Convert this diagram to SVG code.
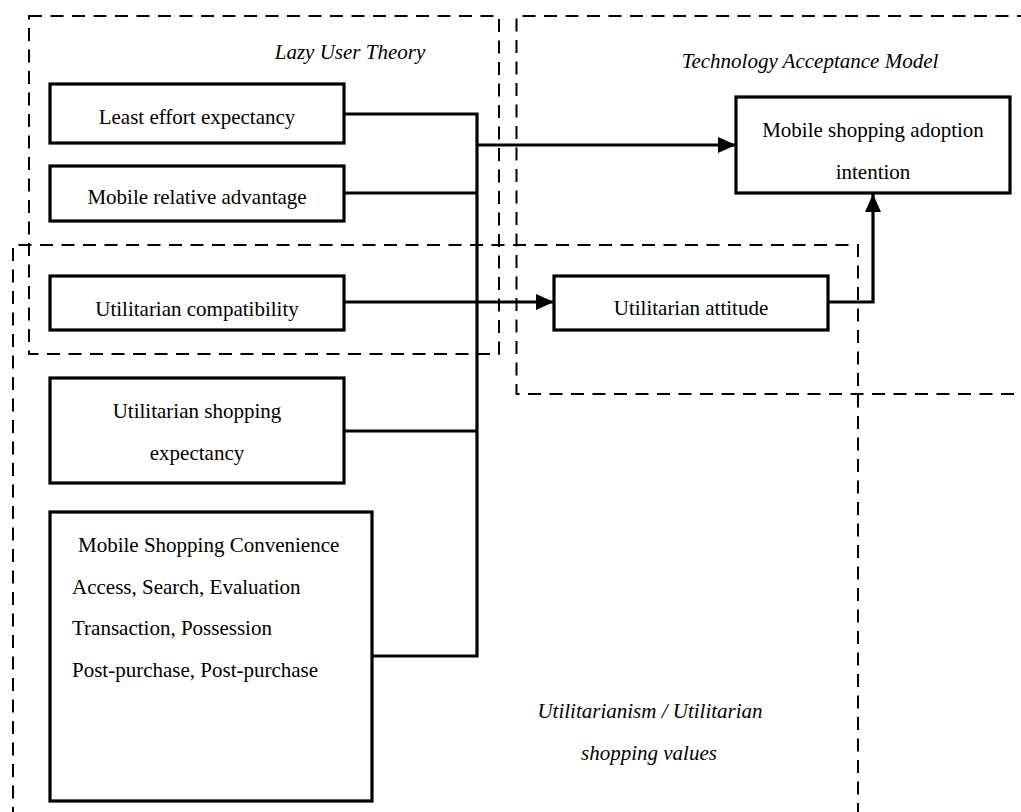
<svg xmlns="http://www.w3.org/2000/svg" width="1021" height="812" viewBox="0 0 1021 812">
<style>
.frame{fill:none;stroke:#000;stroke-width:2;stroke-dasharray:13 8.5}
.node{fill:#fff;stroke:#000;stroke-width:3.2}
.t{font-family:"Liberation Serif","Times New Roman",serif;font-size:21px;fill:#000}
.i{font-family:"Liberation Serif","Times New Roman",serif;font-size:21px;font-style:italic;fill:#000}
.c{fill:none;stroke:#000;stroke-width:3.2}
</style>
<defs>
<marker id="ah" markerUnits="userSpaceOnUse" markerWidth="20" markerHeight="16" refX="18" refY="8" orient="auto">
<path d="M0,0 L18,8 L0,16 Z" fill="#000"/>
</marker>
</defs>
<rect width="1021" height="812" fill="#fff"/>
<g id="frames">
<rect class="frame" x="29" y="16" width="470" height="338"/>
<path class="frame" d="M1030,16 H516.5 V394 H1030"/>
<path class="frame" d="M13,820 V245 H858 V820"/>
<text class="i" x="350" y="59" text-anchor="middle">Lazy User Theory</text>
<text class="i" x="810" y="68" text-anchor="middle">Technology Acceptance Model</text>
<text class="i" x="650" y="718" text-anchor="middle">Utilitarianism / Utilitarian</text>
<text class="i" x="649" y="760" text-anchor="middle">shopping values</text>
</g>
<g id="connectors">
<path class="c" d="M344,114 H477 V656 H372"/>
<path class="c" d="M344,193 H477" stroke-width="2.6"/>
<path class="c" d="M344,431 H477"/>
<path class="c" d="M477,145 H736" marker-end="url(#ah)"/>
<path class="c" d="M344,302 H554" marker-end="url(#ah)"/>
<path class="c" d="M828,302 H873 V194" marker-end="url(#ah)"/>
</g>
<g id="n-least-effort">
<rect class="node" x="50" y="84" width="294" height="59"/>
<text class="t" x="197" y="124" text-anchor="middle">Least effort expectancy</text>
</g>
<g id="n-relative-advantage">
<rect class="node" x="50" y="166" width="294" height="55"/>
<text class="t" x="197" y="204" text-anchor="middle">Mobile relative advantage</text>
</g>
<g id="n-compatibility">
<rect class="node" x="50" y="276" width="294" height="54"/>
<text class="t" x="197" y="316" text-anchor="middle">Utilitarian compatibility</text>
</g>
<g id="n-shopping-expectancy">
<rect class="node" x="50" y="378" width="294" height="105"/>
<text class="t" x="197" y="418" text-anchor="middle">Utilitarian shopping</text>
<text class="t" x="197" y="460" text-anchor="middle">expectancy</text>
</g>
<g id="n-convenience">
<rect class="node" x="50" y="512" width="322" height="289"/>
<text class="t" x="78" y="552">Mobile Shopping Convenience</text>
<text class="t" x="72" y="594">Access, Search, Evaluation</text>
<text class="t" x="72" y="635">Transaction, Possession</text>
<text class="t" x="72" y="677">Post-purchase, Post-purchase</text>
</g>
<g id="n-attitude">
<rect class="node" x="554" y="276" width="274" height="54"/>
<text class="t" x="691" y="315" text-anchor="middle">Utilitarian attitude</text>
</g>
<g id="n-adoption">
<rect class="node" x="736" y="97" width="274" height="96"/>
<text class="t" x="873" y="137" text-anchor="middle">Mobile shopping adoption</text>
<text class="t" x="873" y="179" text-anchor="middle">intention</text>
</g>
</svg>
